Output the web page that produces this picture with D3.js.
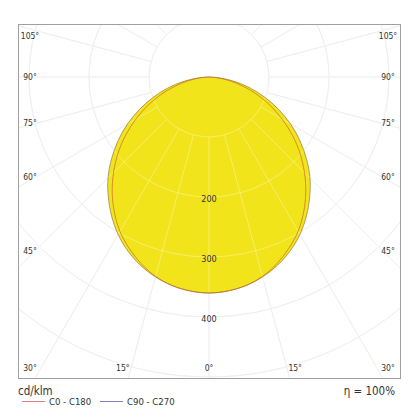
<!DOCTYPE html>
<html><head><meta charset="utf-8">
<script src="https://cdn.jsdelivr.net/npm/d3@7"></script>
<style>body{margin:0;background:#fff}svg{display:block}text{font-family:"DejaVu Sans Condensed","DejaVu Sans",sans-serif;fill:#333}</style>
</head><body><svg id="c" width="420" height="420"></svg>
<script>
// gamma angles (deg) and intensities (cd/klm)
const gammas = [0,5,10,15,20,25,30,35,40,45,50,55,60,65,70,75,80,85,90];
const c0c180 = [360,358,353,344,331,315,297,275,251,225,198,170,141,113,85,58,34,13,0];
const c90c270 = [360,358,353,345,334,320,303,283,261,238,212,185,157,128,99,71,44,19,0];
const ringValues = [100,200,300,400,500,600];
const ringLabels = [200,300,400];
const sideAngles = [105,90,75,60,45];
const bottomAngles = [30,15,0,15,30];
const legendNames = ["C0 - C180","C90 - C270"];
const unitText = "cd/klm";
const etaText = "\u03B7 = 100%";

const svg = d3.select("#c");
const frame = {x0:18, y0:24, x1:401, y1:379};
const cx = 209, cy = 77;
const r = d3.scaleLinear().domain([0,500]).range([0,300]);
const toRad = d => d*Math.PI/180;

svg.append("clipPath").attr("id","clip").append("rect")
  .attr("x",frame.x0).attr("y",frame.y0).attr("width",frame.x1-frame.x0).attr("height",frame.y1-frame.y0);

const g = svg.append("g").attr("clip-path","url(#clip)").append("g").attr("transform",`translate(${cx},${cy})`);

function pts(vals){
  const left = gammas.map((gm,i)=>[toRad(180+gm), r(vals[i])]).reverse();
  const right = gammas.slice(1).map((gm,i)=>[toRad(180-gm), r(vals[i+1])]);
  return left.concat(right);
}
const line = d3.lineRadial().angle(d=>d[0]).radius(d=>d[1]).curve(d3.curveCatmullRom);

function drawGrid(color, opacity){
  const grid = g.append("g").attr("stroke",color).attr("stroke-opacity",opacity).attr("fill","none").attr("stroke-width",1);
  ringValues.forEach(v=>grid.append("circle").attr("r",r(v)));
  d3.range(0,360,15).forEach(a=>{
    const t = toRad(a);
    grid.append("line")
      .attr("x1",r(100)*Math.sin(t)).attr("y1",r(100)*Math.cos(t))
      .attr("x2",r(800)*Math.sin(t)).attr("y2",r(800)*Math.cos(t));
  });
}
drawGrid("#e6e6e6", 1);

const fill = "#f2e41a";
g.append("path").attr("d", line(pts(c90c270))+"Z").attr("fill",fill);
g.append("path").attr("d", line(pts(c0c180))+"Z").attr("fill",fill);

drawGrid("#ffffff", 0.35);

// outlines
g.append("path").attr("d", line(pts(c90c270))+"Z").attr("fill","none").attr("stroke","#9a8850").attr("stroke-width",0.8);
g.append("path").attr("d", line(pts(c0c180))+"Z").attr("fill","none").attr("stroke","#c86a2a").attr("stroke-width",0.7);

// ring labels on 0 ray
ringLabels.forEach(v=>{
  svg.append("text").attr("x",cx).attr("y",cy+r(v)+2).attr("text-anchor","middle")
    .attr("dominant-baseline","middle").attr("font-size",9).text(v);
});

// frame
svg.append("rect").attr("x",frame.x0+0.5).attr("y",frame.y0+0.5)
  .attr("width",frame.x1-frame.x0-1).attr("height",frame.y1-frame.y0-1)
  .attr("fill","none").attr("stroke","#a0a0a0").attr("stroke-width",1);

// angle labels
const colL = frame.x0+12, colR = frame.x1-13, rowB = frame.y1-11;
sideAngles.forEach(a=>{
  const t = toRad(a);
  const hitDy = (cx-frame.x0)/Math.tan(t);
  let y = cy + hitDy*0.915;
  y = Math.max(y, frame.y0+12);
  [colL,colR].forEach(x=>svg.append("text").attr("x",x).attr("y",y).attr("text-anchor","middle")
    .attr("dominant-baseline","middle").attr("font-size",8.5).text(a+"\u00B0"));
});
bottomAngles.forEach((a,i)=>{
  const s = i<2 ? -1 : 1;
  const t = toRad(a);
  let x = cx + s*(frame.y1-cy)*Math.tan(t)*1.065;
  x = Math.max(colL, Math.min(colR, x));
  svg.append("text").attr("x",x).attr("y",rowB).attr("text-anchor","middle")
    .attr("dominant-baseline","middle").attr("font-size",8.5).text(a+"\u00B0");
});

// bottom texts
svg.append("text").attr("x",18).attr("y",395).attr("font-size",11.5).text(unitText);
svg.append("text").attr("x",395).attr("y",395).attr("text-anchor","end").attr("font-size",11.5).text(etaText);
const legColors = ["#e08080","#8080c0"];
legendNames.forEach((n,i)=>{
  const x0 = 22 + i*78;
  svg.append("line").attr("x1",x0).attr("x2",x0+23).attr("y1",401.5).attr("y2",401.5)
    .attr("stroke",legColors[i]).attr("stroke-width",1);
  svg.append("text").attr("x",x0+27).attr("y",405).attr("font-size",9.5).text(n);
});
</script></body></html>
